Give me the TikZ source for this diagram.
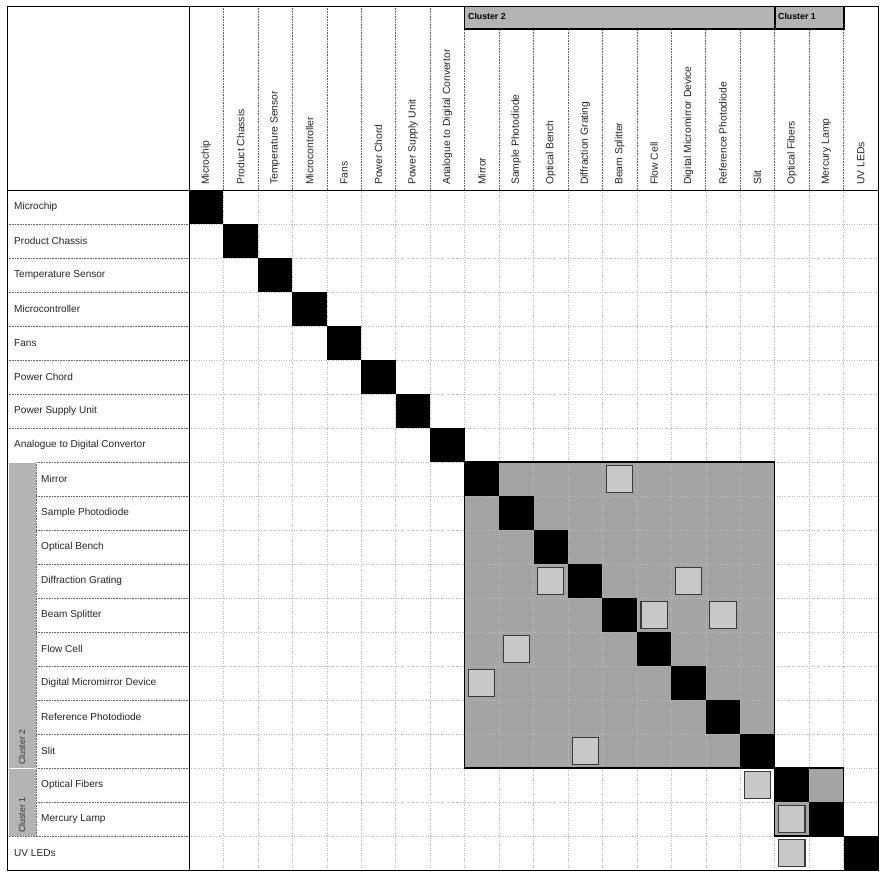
\documentclass[tikz,border=0pt]{standalone}
\usepackage{fontspec}
\setmainfont{Liberation Sans}
\definecolor{clshade}{HTML}{A4A4A4}
\definecolor{markfill}{HTML}{C8C8C8}
\definecolor{markdraw}{HTML}{3A3A3A}
\definecolor{barfill}{HTML}{B4B4B4}
\begin{document}
\begin{tikzpicture}[x=1bp,y=-1bp,
  lbl/.style={font=\fontsize{10.1}{11}\selectfont, inner sep=0pt, anchor=west, text=black!85},
  clbl/.style={font=\fontsize{10.4}{11}\selectfont, inner sep=0pt, anchor=west, rotate=90, text=black!85},
  barlbl/.style={font=\fontsize{8.8}{9}\selectfont\bfseries, inner sep=0pt, anchor=west},
  sidelbl/.style={font=\fontsize{8.8}{9}\selectfont, inner sep=0pt, anchor=west, rotate=90, text=black!80},
  gridm/.style={draw=gray!55, line width=0.5pt, dotted},
  gridh/.style={draw=black!60, line width=0.6pt, densely dotted},
  dsmmark/.style={fill=markfill, draw=markdraw, line width=1.1pt},
  diagcell/.style={fill=black},
  clbox/.style={draw=black, line width=1.6pt},
  frame/.style={draw=black, line width=0.8pt}]
\useasboundingbox (0,0) rectangle (883,873);
\fill[white] (0,0) rectangle (883,873);

% ---------- matrix area ----------
\begin{scope}[shift={(189bp,-190bp)}, x=34.45bp, y=-34bp]
  \fill[clshade] (8,8) rectangle (17,17);
  \fill[clshade] (17,17) rectangle (19,19);
  \foreach \i in {1,...,19} \draw[gridm] (\i,0) -- (\i,20);
  \foreach \j in {1,...,19} \draw[gridm] (0,\j) -- (20,\j);
  \foreach \i in {0,...,19} \fill[diagcell] (\i,\i) rectangle ++(1,1);
  \foreach \r/\c in {8/12, 11/10, 11/14, 12/13, 12/15, 13/9, 14/8, 16/11, 17/16, 18/17, 19/17}
    \draw[dsmmark] ({\c+0.12},{\r+0.1}) rectangle ({\c+0.88},{\r+0.9});
  \draw[clbox] (8,8) rectangle (17,17);
  \draw[clbox] (17,17) rectangle (19,19);
\end{scope}

% ---------- header grid lines ----------
\foreach \i in {1,...,8} \draw[gridh] ({189+34.45*\i},6) -- ({189+34.45*\i},190);
\foreach \i in {9,...,19} \draw[gridh] ({189+34.45*\i},30) -- ({189+34.45*\i},190);

% ---------- label-area row lines ----------
\foreach \j in {1,...,7} \draw[gridh] (7,{190+34*\j}) -- (189,{190+34*\j});
\foreach \j in {8,...,18} \draw[gridh] (36,{190+34*\j}) -- (189,{190+34*\j});
\draw[gridh] (7,836) -- (189,836);
\draw[gridh] (36,462) -- (36,836);

% ---------- side cluster bars ----------
\fill[barfill] (9,463) rectangle (35,767);
\draw[gray!60, line width=0.5pt] (9,463) rectangle (35,767);
\fill[barfill] (9,769) rectangle (35,835);
\draw[gray!60, line width=0.5pt] (9,769) rectangle (35,835);
\node[sidelbl] (sc2) at (22,765) {Cluster 2};
\node[sidelbl] (sc1) at (22,833) {Cluster 1};

% ---------- top cluster bars ----------
\fill[barfill] (464.6,6) rectangle (843.5,29);
\draw[black, line width=0.8pt] (464.6,6) -- (464.6,30);
\draw[black, line width=2.6pt] (464.6,29) -- (843.5,29);
\draw[black, line width=2pt] (774.6,6) -- (774.6,30);
\draw[black, line width=2pt] (843.5,6) -- (843.5,30);
\node[barlbl] (tc2) at (468,16) {Cluster 2};
\node[barlbl] (tc1) at (778,16) {Cluster 1};

% ---------- frame ----------
\draw[frame] (7,6) rectangle (878,870);
\draw[frame] (189,6) -- (189,870);
\draw[frame] (7,190) -- (878,190);

% ---------- column labels ----------
\foreach \i/\n in {0/Microchip, 1/Product Chassis, 2/Temperature Sensor, 3/Microcontroller,
  4/Fans, 5/Power Chord, 6/Power Supply Unit, 7/Analogue to Digital Convertor,
  8/Mirror, 9/Sample Photodiode, 10/Optical Bench, 11/Diffraction Grating,
  12/Beam Splitter, 13/Flow Cell, 14/Digital Micromirror Device, 15/Reference Photodiode,
  16/Slit, 17/Optical Fibers, 18/Mercury Lamp, 19/UV LEDs}
  \node[clbl] (c\i) at ({189+34.45*(\i+0.5)},185) {\n};

% ---------- row labels ----------
\foreach \i/\n in {0/Microchip, 1/Product Chassis, 2/Temperature Sensor, 3/Microcontroller,
  4/Fans, 5/Power Chord, 6/Power Supply Unit, 7/Analogue to Digital Convertor, 19/UV LEDs}
  \node[lbl] (r\i) at (14,{190+34*(\i+0.5)}) {\n};
\foreach \i/\n in {8/Mirror, 9/Sample Photodiode, 10/Optical Bench, 11/Diffraction Grating,
  12/Beam Splitter, 13/Flow Cell, 14/Digital Micromirror Device, 15/Reference Photodiode,
  16/Slit, 17/Optical Fibers, 18/Mercury Lamp}
  \node[lbl] (r\i) at (41,{190+34*(\i+0.5)}) {\n};
\end{tikzpicture}
\end{document}
